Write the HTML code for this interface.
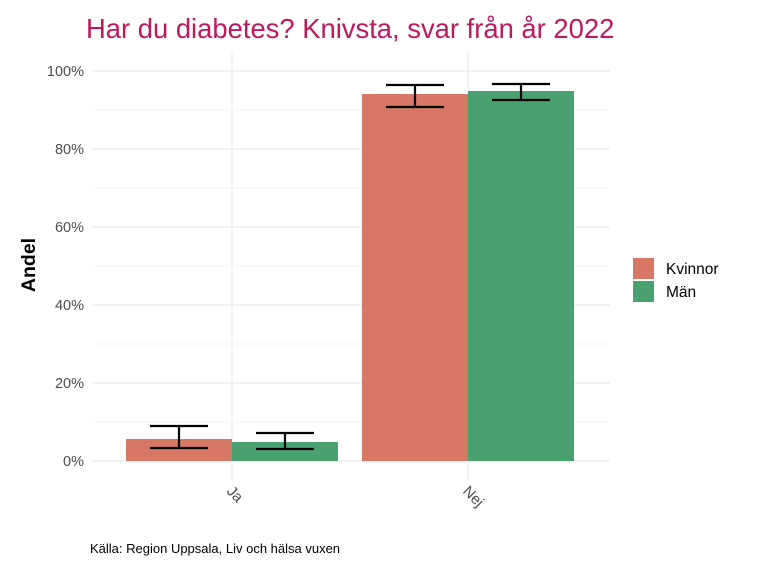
<!DOCTYPE html>
<html><head><meta charset="utf-8"><style>body{margin:0;background:#fff}</style></head><body>
<svg width="768" height="576" xmlns="http://www.w3.org/2000/svg" font-family="Liberation Sans, sans-serif">
<rect width="768" height="576" fill="#fff"/>
<g stroke="#ebebeb" stroke-width="0.6">
<line x1="92" x2="610" y1="422" y2="422"/><line x1="92" x2="610" y1="344" y2="344"/><line x1="92" x2="610" y1="266" y2="266"/><line x1="92" x2="610" y1="188" y2="188"/><line x1="92" x2="610" y1="110" y2="110"/>
</g>
<g stroke="#ebebeb" stroke-width="1.2">
<line x1="92" x2="610" y1="461" y2="461"/><line x1="92" x2="610" y1="383" y2="383"/><line x1="92" x2="610" y1="305" y2="305"/><line x1="92" x2="610" y1="227" y2="227"/><line x1="92" x2="610" y1="149" y2="149"/><line x1="92" x2="610" y1="71" y2="71"/>
<line x1="232" x2="232" y1="52" y2="480"/><line x1="468" x2="468" y1="52" y2="480"/>
</g>
<rect x="126" y="439" width="106" height="22" fill="#d77766"/>
<rect x="232" y="442" width="106" height="19" fill="#4aa170"/>
<rect x="362" y="94" width="106" height="367" fill="#d77766"/>
<rect x="468" y="91" width="106" height="370" fill="#4aa170"/>
<g stroke="#000" stroke-width="2.2" fill="none">
<path d="M150 426H208M150 448H208M179 426V448"/>
<path d="M256 433H314M256 449H314M285 433V449"/>
<path d="M386 85H444M386 107H444M415 85V107"/>
<path d="M492 84H550M492 100H550M521 84V100"/>
</g>
<g font-size="14.5" fill="#4d4d4d" text-anchor="end">
<text x="84" y="466">0%</text><text x="84" y="388">20%</text><text x="84" y="310">40%</text><text x="84" y="232">60%</text><text x="84" y="154">80%</text><text x="84" y="76">100%</text>
</g>
<text font-size="15" fill="#4d4d4d" transform="translate(226,492) rotate(45)">Ja</text>
<text font-size="15" fill="#4d4d4d" transform="translate(462,492) rotate(45)">Nej</text>
<text font-size="19.5" font-weight="bold" transform="translate(35,265) rotate(-90)" text-anchor="middle">Andel</text>
<text x="86" y="38" font-size="27.4" fill="#c0175d">Har du diabetes? Knivsta, svar från år 2022</text>
<rect x="633" y="258" width="21" height="21" fill="#d77766"/>
<rect x="633" y="281" width="21" height="21" fill="#4aa170"/>
<text x="666" y="274" font-size="15.5">Kvinnor</text>
<text x="666" y="297" font-size="15.5">Män</text>
<text x="90" y="553" font-size="13">Källa: Region Uppsala, Liv och hälsa vuxen</text>
</svg>
</body></html>
